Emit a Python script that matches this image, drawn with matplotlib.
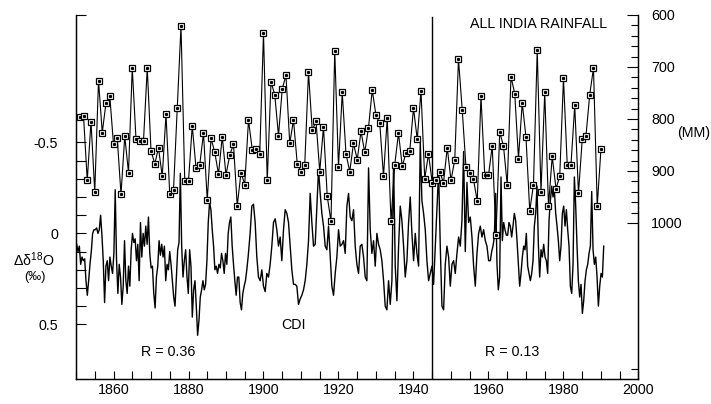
import matplotlib
matplotlib.use("Agg")
import matplotlib.pyplot as plt
import numpy as np
from matplotlib.ticker import FixedLocator, MultipleLocator

plt.rcParams['font.family'] = ['Liberation Sans', 'DejaVu Sans']
plt.rcParams['mathtext.fontset'] = 'custom'
plt.rcParams['mathtext.rm'] = 'Liberation Sans'
plt.rcParams['mathtext.default'] = 'regular'

# all india rainfall (mm), one value per year
rain_years = np.arange(1851, 1991)
rain_mm = [797, 794, 918, 805, 940, 726, 826, 769, 755, 849,
           837, 945, 833, 903, 702, 839, 842, 842, 702, 861,
           886, 856, 910, 791, 945, 937, 779, 621, 919, 919,
           813, 894, 888, 827, 956, 837, 864, 906, 834, 908,
           869, 849, 967, 903, 926, 802, 859, 857, 867, 635,
           918, 729, 753, 832, 742, 716, 847, 802, 886, 902,
           888, 710, 822, 804, 901, 815, 949, 997, 669, 892,
           749, 867, 901, 847, 878, 824, 864, 817, 744, 793,
           808, 910, 798, 997, 888, 827, 891, 865, 862, 779,
           839, 746, 915, 867, 923, 917, 901, 923, 855, 918,
           879, 685, 783, 893, 904, 916, 958, 756, 908, 908,
           852, 1024, 825, 852, 927, 719, 751, 876, 769, 835,
           977, 926, 668, 940, 749, 967, 872, 934, 910, 722,
           888, 888, 774, 943, 839, 832, 753, 702, 967, 857]

# coral delta-18O anomaly (per mil), three evenly sampled stretches
cdi_a_span = (1850.18, 1895.90)
cdi_a = [0.06, 0.10, 0.07, 0.17, 0.13, 0.15, 0.14, 0.26, 0.34, 0.26,
         0.17, 0.10, 0.00, -0.02, -0.02, -0.03, 0.00, -0.02, -0.10, 0.01,
         0.15, 0.38, 0.18, 0.15, 0.26, 0.13, 0.18, 0.22, 0.11, -0.24,
         0.15, 0.33, 0.17, 0.24, 0.39, 0.29, 0.04, 0.26, 0.33, 0.18,
         0.29, 0.09, 0.00, 0.05, 0.03, 0.15, 0.06, 0.26, -0.06, 0.13,
         0.00, 0.07, -0.04, 0.06, -0.09, 0.11, 0.19, 0.18, 0.33, 0.41,
         0.24, 0.18, 0.04, 0.12, 0.06, 0.13, 0.07, 0.26, 0.17, 0.20,
         0.10, 0.17, 0.26, 0.35, 0.40, 0.24, 0.09, 0.05, -0.33, 0.07,
         0.24, 0.15, 0.09, 0.24, 0.33, 0.09, 0.18, 0.46, 0.31, 0.26,
         0.40, 0.56, 0.48, 0.35, 0.31, 0.26, 0.31, 0.28, 0.15, -0.06,
         -0.17, -0.13, -0.02, 0.07, 0.20, 0.18, 0.22, 0.17, 0.19, 0.11,
         0.15, 0.22, 0.11, 0.17, 0.00, -0.06, -0.09, 0.07, 0.17, 0.26,
         0.34, 0.24, 0.24, 0.38, 0.42, 0.33, 0.29, 0.26, 0.20, 0.13]
cdi_b_span = (1896.44, 1960.04)
cdi_b = [0.00, -0.15, -0.16, -0.06, 0.13, 0.24, 0.26, 0.20, 0.29, 0.32,
         0.22, 0.24, 0.17, 0.07, -0.06, -0.08, -0.02, 0.07, 0.02, 0.15,
         -0.02, -0.13, -0.11, -0.06, 0.07, 0.20, 0.28, 0.28, 0.29, 0.39,
         0.36, 0.34, 0.31, 0.26, 0.17, 0.04, -0.22, -0.06, 0.07, 0.06,
         -0.15, -0.35, -0.22, -0.11, -0.04, 0.07, 0.09, -0.04, 0.13, 0.29,
         0.34, 0.22, 0.13, -0.02, 0.07, 0.06, 0.04, 0.11, -0.15, -0.22,
         -0.09, -0.07, -0.13, 0.07, 0.17, 0.22, 0.07, 0.06, 0.13, 0.24,
         0.26, -0.36, -0.02, 0.11, 0.04, 0.18, 0.00, 0.06, 0.09, 0.15,
         0.26, 0.40, 0.42, 0.26, 0.39, 0.26, -0.39, 0.18, 0.37, 0.07,
         -0.15, -0.07, 0.07, 0.24, 0.15, -0.06, -0.20, 0.00, 0.15, 0.00,
         0.11, 0.18, -0.50, -0.18, -0.11, -0.02, 0.15, 0.26, 0.22, 0.18,
         0.28, 0.07, -0.13, -0.34, 0.07, 0.40, 0.42, 0.17, 0.07, 0.13,
         0.29, 0.17, 0.15, 0.22, 0.11, 0.02, 0.07, -0.07, -0.45, 0.10,
         -0.28, -0.06, -0.09, 0.02, 0.18, 0.29, 0.11, 0.00, -0.04, 0.02,
         -0.02, 0.04, 0.07, 0.15]
cdi_c_span = (1960.49, 1990.73)
cdi_c = [0.15, 0.10, 0.07, 0.02, -0.22, 0.17, 0.31, 0.24, -0.31, 0.04,
         -0.06, -0.02, 0.01, 0.01, -0.06, -0.04, 0.02, -0.04, -0.11, -0.07,
         0.04, 0.17, 0.29, 0.22, 0.13, 0.07, 0.09, 0.00, 0.18, 0.22,
         0.26, 0.22, 0.15, -0.04, -0.11, -0.26, 0.06, 0.24, 0.09, 0.13,
         0.06, 0.13, 0.15, 0.22, -0.07, -0.18, -0.26, -0.20, -0.24, -0.11,
         -0.04, 0.04, 0.15, 0.07, -0.11, -0.15, -0.04, -0.13, -0.02, 0.07,
         0.29, 0.33, 0.17, -0.31, -0.15, 0.07, 0.26, 0.35, 0.28, 0.44,
         0.37, 0.26, 0.20, 0.17, 0.11, 0.07, -0.23, 0.09, 0.17, 0.13,
         0.24, 0.40, 0.29, 0.22, 0.24, 0.07]

cdi_years = np.concatenate([np.linspace(*cdi_a_span, len(cdi_a)),
                            np.linspace(*cdi_b_span, len(cdi_b)),
                            np.linspace(*cdi_c_span, len(cdi_c))])
cdi_vals = np.array(cdi_a + cdi_b + cdi_c)

split_year = 1945

fig = plt.figure(figsize=(7.11, 4.04), dpi=100)
ax = fig.add_axes([0.1069, 0.0619, 0.7911, 0.9010])
ax2 = ax.twinx()

ax.plot(cdi_years, cdi_vals, color='black', lw=1.0, zorder=2)
ax.axvline(split_year, color='black', lw=1.0, ymax=0.995)

ax2.plot(rain_years, rain_mm, color='black', lw=0.8, marker='s', ms=5,
         mfc='white', mec='black', mew=0.9, zorder=3)
ax2.plot(rain_years, rain_mm, ls='none', marker='s', ms=1.2,
         color='black', zorder=4)

ax.set_xlim(1850, 2000)
ax.set_ylim(0.8, -1.2)
ax2.set_ylim(1300, 600)

fs = 10.3
ax.xaxis.set_major_locator(MultipleLocator(20))
ax.xaxis.set_minor_locator(MultipleLocator(5))
ax.yaxis.set_major_locator(FixedLocator([-0.5, 0, 0.5]))
ax.yaxis.set_minor_locator(FixedLocator([-1.2, -0.4, -0.3, -0.2, -0.1,
                                         0.1, 0.2, 0.3, 0.4]))
ax.set_yticklabels(['-0.5', '0', '0.5'])
ax.tick_params(axis='x', which='both', direction='in', length=6, width=0.8,
               top=False, labelsize=fs, pad=3)
ax.tick_params(axis='y', which='both', direction='in', length=7, width=0.8,
               right=False, labelsize=fs, pad=13)

ax2.yaxis.set_major_locator(FixedLocator([600, 700, 800, 900, 1000]))
ax2.yaxis.set_minor_locator(FixedLocator(list(np.arange(620, 1000, 20)) + [1280]))
ax2.tick_params(axis='y', which='major', direction='in', length=8, width=0.8,
                labelsize=fs, pad=9)
ax2.tick_params(axis='y', which='minor', direction='in', length=5, width=0.8)

for a in (ax, ax2):
    a.spines['top'].set_visible(False)
    for s in ('left', 'right', 'bottom'):
        a.spines[s].set_linewidth(0.9)

ax.text(1955.2, -1.15, 'ALL INDIA RAINFALL', fontsize=fs, ha='left', va='center')
ax.text(1907.9, 0.505, 'CDI', fontsize=fs, ha='center', va='center')
ax.text(1874.5, 0.65, 'R = 0.36', fontsize=fs, ha='center', va='center')
ax.text(1966.4, 0.65, 'R = 0.13', fontsize=fs, ha='center', va='center')

fig.text(34 / 711, 1 - 260 / 404, r'$\Delta\delta^{18}$O', fontsize=fs,
         ha='center', va='center')
fig.text(35 / 711, 1 - 277 / 404, '(‰)', fontsize=fs - 1, ha='center', va='center')
fig.text(694 / 711, 1 - 133 / 404, '(MM)', fontsize=fs, ha='center', va='center')

fig.savefig('out.png', dpi=100)
